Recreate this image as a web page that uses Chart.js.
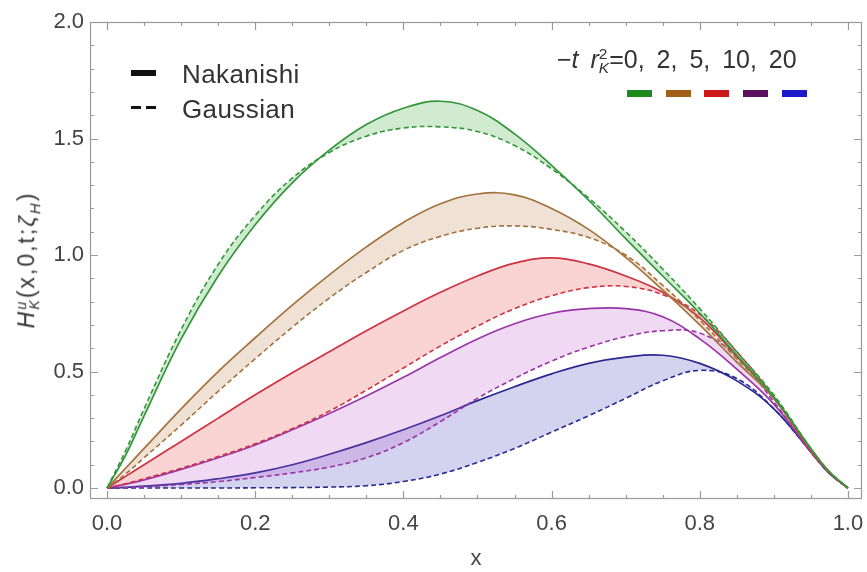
<!DOCTYPE html>
<html><head><meta charset="utf-8">
<script src="https://cdn.jsdelivr.net/npm/chart.js@4.4.1/dist/chart.umd.min.js"></script>
<style>
html,body{margin:0;padding:0;background:#fff;}
#wrap{position:relative;width:867px;height:572px;overflow:hidden;}
canvas{position:absolute;left:0;top:0;}
.t{position:absolute;font-family:"Liberation Sans",Arial,Helvetica,sans-serif;color:#333;white-space:nowrap;line-height:1;}
.ss{display:inline-block;vertical-align:middle;line-height:0.9;font-size:0.62em;text-align:left;}
.ss span{display:block;}
.bar{position:absolute;}
</style></head><body>
<div id="wrap">
<canvas id="c" width="867" height="572"></canvas>
<div class="bar" style="left:131px;top:70px;width:25px;height:6px;background:#111;"></div>
<div class="bar" style="left:131px;top:106px;width:10px;height:3px;background:#111;"></div>
<div class="bar" style="left:146px;top:106px;width:10px;height:3px;background:#111;"></div>
<div class="t" style="left:182px;top:61px;font-size:26px;letter-spacing:0.4px;">Nakanishi</div>
<div class="t" style="left:182px;top:96px;font-size:26px;letter-spacing:0.4px;">Gaussian</div>
<div class="t" style="left:557px;top:47px;font-size:25px;word-spacing:5px;">&minus;<i>t</i> <i>r</i><span class="ss"><span>2</span><span><i>K</i></span></span>=0, 2, 5, 10, 20</div>
<div class="bar" style="left:627px;top:90px;width:25px;height:7px;background:#1e8a1e;"></div>
<div class="bar" style="left:666px;top:90px;width:25px;height:7px;background:#a0601a;"></div>
<div class="bar" style="left:704px;top:90px;width:25px;height:7px;background:#cc1a1a;"></div>
<div class="bar" style="left:743px;top:90px;width:25px;height:7px;background:#5a125e;"></div>
<div class="bar" style="left:782px;top:90px;width:25px;height:7px;background:#1a1acc;"></div>
<div class="t" style="left:29px;top:260px;font-size:23px;letter-spacing:2px;transform:translate(-50%,-50%) rotate(-90deg);"><i>H</i><span class="ss"><span><i>u</i></span><span><i>K</i></span></span>(x,0,t;<i>&zeta;</i><sub style="font-size:0.65em;"><i>H</i></sub>)</div>
</div>
<script>
const xs = [0,0.025,0.05,0.1,0.15,0.2,0.25,0.3,0.35,0.4,0.45,0.5,0.55,0.6,0.65,0.7,0.75,0.8,0.85,0.9,0.95,0.975,1.0];

const nakanishi_t0  = [0,0.14,0.31,0.64,0.91,1.13,1.31,1.45,1.56,1.63,1.66,1.62,1.52,1.385,1.235,1.07,0.91,0.75,0.57,0.39,0.17,0.07,0];
const gaussian_t0   = [0,0.16,0.34,0.68,0.96,1.17,1.33,1.44,1.51,1.545,1.55,1.53,1.47,1.37,1.245,1.10,0.94,0.77,0.585,0.40,0.17,0.07,0];
const nakanishi_t2  = [0,0.085,0.17,0.34,0.50,0.645,0.785,0.915,1.035,1.14,1.22,1.262,1.258,1.20,1.11,0.99,0.85,0.70,0.54,0.385,0.165,0.068,0];
const gaussian_t2   = [0,0.06,0.13,0.27,0.415,0.555,0.69,0.815,0.925,1.02,1.08,1.115,1.125,1.11,1.075,1.00,0.87,0.72,0.555,0.39,0.167,0.068,0];
const nakanishi_t5  = [0,0.05,0.10,0.20,0.30,0.40,0.495,0.585,0.675,0.76,0.84,0.91,0.965,0.988,0.962,0.91,0.84,0.73,0.565,0.385,0.16,0.066,0];
const gaussian_t5   = [0,0.018,0.04,0.085,0.135,0.19,0.255,0.33,0.42,0.515,0.61,0.695,0.77,0.825,0.86,0.865,0.83,0.745,0.585,0.39,0.162,0.066,0];
const nakanishi_t10 = [0,0.017,0.035,0.08,0.13,0.185,0.25,0.32,0.395,0.475,0.56,0.64,0.705,0.75,0.77,0.77,0.735,0.64,0.51,0.36,0.155,0.064,0];
const gaussian_t10  = [0,0.002,0.005,0.015,0.028,0.045,0.065,0.09,0.13,0.195,0.285,0.385,0.47,0.545,0.605,0.65,0.675,0.665,0.565,0.37,0.155,0.064,0];
const nakanishi_t20 = [0,0.003,0.008,0.02,0.04,0.065,0.10,0.145,0.195,0.25,0.31,0.375,0.435,0.49,0.535,0.562,0.57,0.535,0.46,0.34,0.155,0.063,0];
const gaussian_t20  = [0,0,0,0,0,0.001,0.002,0.004,0.01,0.028,0.06,0.11,0.17,0.24,0.31,0.385,0.46,0.505,0.47,0.34,0.155,0.063,0];

const xTickValues = [0,0.2,0.4,0.6,0.8,1.0];
const xTickLabels = ['0.0','0.2','0.4','0.6','0.8','1.0'];
const yTickValues = [0,0.5,1.0,1.5,2.0];
const yTickLabels = ['0.0','0.5','1.0','1.5','2.0'];

const groups = [
  {nak:nakanishi_t0,  gau:gaussian_t0,  line:'#33963a', fill:'rgba(70,175,70,0.25)'},
  {nak:nakanishi_t2,  gau:gaussian_t2,  line:'#a4723e', fill:'rgba(180,120,60,0.22)'},
  {nak:nakanishi_t5,  gau:gaussian_t5,  line:'#cf3240', fill:'rgba(235,70,70,0.24)'},
  {nak:nakanishi_t10, gau:gaussian_t10, line:'#9a35a8', fill:'rgba(180,80,200,0.22)'},
  {nak:nakanishi_t20, gau:gaussian_t20, line:'#2a2a92', fill:'rgba(70,70,190,0.24)'}
];
const pts = arr => xs.map((x,i)=>({x:x, y:arr[i]}));
const datasets = [];
groups.forEach(g=>{
  datasets.push({data:pts(g.nak), borderColor:g.line, borderWidth:1.7, fill:false, tension:0.4, pointRadius:0});
  datasets.push({data:pts(g.gau), borderColor:g.line, borderWidth:1.6, borderDash:[5,3], fill:'-1', backgroundColor:g.fill, tension:0.4, pointRadius:0});
});

const FONT = '"Liberation Sans", Arial, Helvetica, sans-serif';
const framePlugin = {
  id:'frame',
  afterDraw(chart){
    const {ctx, chartArea:{left,right,top,bottom}, scales:{x,y}} = chart;
    ctx.save();
    ctx.strokeStyle = '#9a9a9a';
    ctx.lineWidth = 1.2;
    ctx.strokeRect(left+0.5, top+0.5, right-left-1, bottom-top-1);
    ctx.beginPath();
    for (let k=0;k<=20;k++){
      const v=k*0.05; const px=Math.round(x.getPixelForValue(v))+0.5;
      const len = (k%4===0)?8:4;
      ctx.moveTo(px,bottom); ctx.lineTo(px,bottom-len);
      ctx.moveTo(px,top); ctx.lineTo(px,top+len);
    }
    for (let k=0;k<=20;k++){
      const v=k*0.1; const py=Math.round(y.getPixelForValue(v))+0.5;
      const len = (k%5===0)?8:4;
      ctx.moveTo(left,py); ctx.lineTo(left+len,py);
      ctx.moveTo(right,py); ctx.lineTo(right-len,py);
    }
    ctx.stroke();
    ctx.restore();
  }
};

new Chart(document.getElementById('c'), {
  type:'line',
  data:{datasets},
  options:{
    responsive:false, animation:false, devicePixelRatio:1,
    layout:{padding:{top:22,right:5,left:0,bottom:0}},
    plugins:{legend:{display:false}, tooltip:{enabled:false}},
    scales:{
      x:{type:'linear', min:-0.023, max:1.019,
        border:{display:false}, grid:{display:false, drawTicks:false},
        afterBuildTicks:s=>{s.ticks = xTickValues.map(v=>({value:v}));},
        afterFit:s=>{s.height=73; s.paddingLeft=0; s.paddingRight=0;},
        ticks:{padding:12, color:'#444', maxRotation:0, autoSkip:false, font:{size:22,family:FONT},
          callback:(v,i)=>xTickLabels[i]},
        title:{display:true, text:'x', color:'#444', padding:{top:0,bottom:0}, font:{size:22,family:FONT}}
      },
      y:{type:'linear', min:-0.047, max:2.0,
        border:{display:false}, grid:{display:false, drawTicks:false},
        afterBuildTicks:s=>{s.ticks = yTickValues.map(v=>({value:v}));},
        afterFit:s=>{s.width=90; s.paddingTop=0; s.paddingBottom=0;},
        ticks:{padding:6, color:'#444', autoSkip:false, font:{size:22,family:FONT},
          callback:(v,i)=>yTickLabels[i]}
      }
    }
  },
  plugins:[framePlugin]
});
</script>
</body></html>
